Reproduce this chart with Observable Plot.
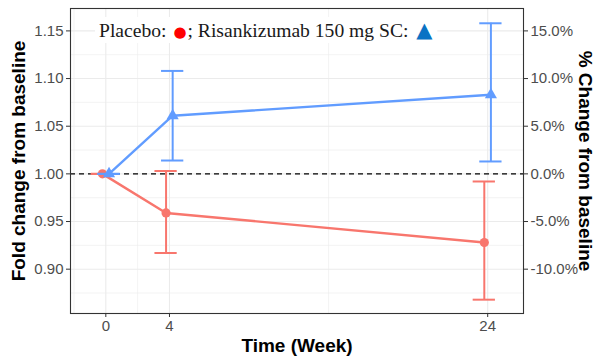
<!DOCTYPE html>
<html><head><meta charset="utf-8">
<script src="https://cdn.jsdelivr.net/npm/d3@7"></script>
<script src="https://cdn.jsdelivr.net/npm/@observablehq/plot@0.6"></script>
<style>body{margin:0;background:#fff;} #chart{width:596px;height:361px;}</style>
</head><body><div id="chart"></div>
<script>
const weeks = [0, 4, 24];
const groups = ["Placebo", "Risankizumab 150 mg SC"];
const placeboMean = [1.000, 0.959, 0.928];
const placeboLow  = [1.000, 0.917, 0.868];
const placeboHigh = [1.000, 1.003, 0.992];
const risaMean = [1.000, 1.061, 1.083];
const risaLow  = [1.000, 1.014, 1.013];
const risaHigh = [1.000, 1.108, 1.158];
const xTicks = [0, 4, 24];
const xMinor = [-2, 2, 14];
const yTicks = [0.90, 0.95, 1.00, 1.05, 1.10, 1.15];
const yMinor = [0.875, 0.925, 0.975, 1.025, 1.075, 1.125];
const pctLabels = ["-10.0%", "-5.0%", "0.0%", "5.0%", "10.0%", "15.0%"];
const xTitle = "Time (Week)";
const yTitle = "Fold change from baseline";
const y2Title = "% Change from baseline";

const colors = {"Placebo": "#F8766D", "Risankizumab 150 mg SC": "#619CFF"};
const symbols = {"Placebo": "circle", "Risankizumab 150 mg SC": "triangle"};
const dodge = {"Placebo": -3.4, "Risankizumab 150 mg SC": 3.2};
const capHalf = 0.7;

const series = {
  "Placebo": {mean: placeboMean, low: placeboLow, high: placeboHigh},
  "Risankizumab 150 mg SC": {mean: risaMean, low: risaLow, high: risaHigh}
};
const rows = (g) => weeks.map((w, i) => ({group: g, week: w, mean: series[g].mean[i], low: series[g].low[i], high: series[g].high[i]}));

const gridStyle = {stroke: "#EBEBEB", strokeOpacity: 1};
const seriesMarks = groups.flatMap(g => {
  const d = rows(g), c = colors[g], dx = dodge[g];
  return [
    Plot.line(d, {x: "week", y: "mean", stroke: c, strokeWidth: 2.4, dx}),
    Plot.ruleX(d, {x: "week", y1: "low", y2: "high", stroke: c, strokeWidth: 2, dx}),
    Plot.ruleY(d, {y: "low", x1: r => r.week - capHalf, x2: r => r.week + capHalf, stroke: c, strokeWidth: 2, dx}),
    Plot.ruleY(d, {y: "high", x1: r => r.week - capHalf, x2: r => r.week + capHalf, stroke: c, strokeWidth: 2, dx}),
    Plot.dot(d, {x: "week", y: "mean", fill: c, stroke: "none", symbol: symbols[g], r: g === "Placebo" ? 4.6 : 4.5, dx})
  ];
});

const plot = Plot.plot({
  width: 596, height: 361,
  marginLeft: 70, marginRight: 73, marginTop: 8, marginBottom: 48,
  style: {fontFamily: "'Liberation Sans', Arial, sans-serif", background: "#fff"},
  x: {domain: [-2.22, 26.25], axis: null},
  y: {domain: [0.8535, 1.1735], axis: null},
  marks: [
    Plot.gridX(xMinor, {...gridStyle, strokeWidth: 0.6}),
    Plot.gridY(yMinor, {...gridStyle, strokeWidth: 0.6}),
    Plot.gridX(xTicks, {...gridStyle, strokeWidth: 1.1}),
    Plot.gridY(yTicks, {...gridStyle, strokeWidth: 1.1}),
    Plot.ruleY([1], {stroke: "#000", strokeWidth: 1.1, strokeDasharray: "5,4"}),
    ...seriesMarks,
    Plot.frame({stroke: "#333", strokeWidth: 1.1}),
    Plot.axisX(xTicks, {anchor: "bottom", tickSize: 4, tickPadding: 3, fontSize: 15, stroke: "#333", fill: "#4D4D4D", label: null}),
    Plot.axisY(yTicks, {anchor: "left", tickSize: 4, tickPadding: 3, fontSize: 15, stroke: "#333", fill: "#4D4D4D", label: null, tickFormat: d => d.toFixed(2)}),
    Plot.axisY(yTicks, {anchor: "right", tickSize: 4, tickPadding: 3, fontSize: 15, stroke: "#333", fill: "#4D4D4D", label: null, tickFormat: d => pctLabels[yTicks.indexOf(d)]}),
    Plot.text([xTitle], {text: d => d, frameAnchor: "bottom", dy: 38, fontSize: 19, fontWeight: "bold", fill: "#000"}),
    Plot.text([yTitle], {text: d => d, frameAnchor: "left", textAnchor: "middle", dx: -52, rotate: -90, fontSize: 19, fontWeight: "bold", fill: "#000"}),
    Plot.text([y2Title], {text: d => d, frameAnchor: "right", textAnchor: "middle", dx: 62, rotate: 90, fontSize: 19, fontWeight: "bold", fill: "#000"})
  ]
});
document.getElementById("chart").appendChild(plot);

// in-panel legend annotation
const svg = d3.select(plot);
const lg = svg.append("g");
const rect = lg.append("rect").attr("fill", "#fff");
const t = lg.append("text")
  .attr("x", 99).attr("y", 37)
  .attr("text-anchor", "start")
  .attr("font-family", "'Liberation Serif', 'Times New Roman', serif")
  .attr("font-size", 19.6).attr("fill", "#1a1a1a");
t.append("tspan").text("Placebo: ");
t.append("tspan").attr("fill", "#FF0000").attr("font-size", 15).attr("font-family", "'DejaVu Sans', sans-serif").attr("dx", 2).text("●");
t.append("tspan").attr("dx", 1).text("; Risankizumab 150 mg SC: ");
t.append("tspan").attr("fill", "#0A72C4").attr("font-size", 21).attr("font-family", "'DejaVu Sans', sans-serif").attr("dx", 3).text("▲");
const bb = t.node().getBBox();
rect.attr("x", bb.x - 4).attr("y", 17).attr("width", bb.width + 8).attr("height", 26);
</script>
</body></html>
